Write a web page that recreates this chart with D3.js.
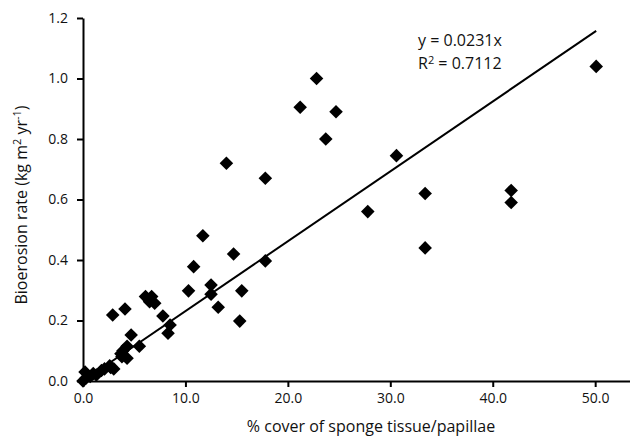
<!DOCTYPE html>
<html>
<head>
<meta charset="utf-8">
<script src="https://cdn.jsdelivr.net/npm/d3@7"></script>
<style>
  body { margin: 0; background: #fff; }
  svg { display: block; font-family: 'Open Sans', sans-serif; }
  .axis path, .axis line { stroke: #000; stroke-width: 2px; }
  .axis text { font-size: 14px; fill: #111; font-family: 'Open Sans', sans-serif; }
</style>
</head>
<body>
<svg></svg>
<script>
// % cover of sponge tissue/papillae
let cover = [
  0.0, 0.2, 0.3, 0.7, 1.0, 1.3, 1.8, 2.1, 2.6, 3.0,
  2.7, 3.7, 3.9, 3.8, 4.3, 4.3, 5.5, 4.7, 2.9, 4.1,
  6.1, 6.7, 6.5, 7.0, 7.8, 8.5, 8.3, 10.3, 10.8, 11.7,
  12.5, 12.5, 13.2, 14.7, 14.0, 15.3, 15.5, 17.8, 17.8, 21.2,
  22.8, 23.7, 24.7, 27.8, 30.6, 33.4, 33.4, 41.8, 41.8, 50.1
];

// bioerosion rate (kg m2 yr-1)
let rate = [
  0.0, 0.03, 0.01, 0.015, 0.025, 0.02, 0.035, 0.04, 0.05, 0.04,
  0.045, 0.09, 0.10, 0.08, 0.075, 0.115, 0.115, 0.152, 0.218, 0.238,
  0.279, 0.279, 0.262, 0.257, 0.215, 0.185, 0.158, 0.298, 0.378, 0.48,
  0.317, 0.287, 0.244, 0.42, 0.72, 0.198, 0.298, 0.67, 0.397, 0.905,
  1.00, 0.80, 0.89, 0.56, 0.745, 0.62, 0.44, 0.63, 0.59, 1.04
];

let xTicks = [0, 10, 20, 30, 40, 50];
let yTicks = [0, 0.2, 0.4, 0.6, 0.8, 1.0, 1.2];

let slope = 0.0231;
let trendX = [0, 50.1];

// configuration of svg/plot area
let config = { 'svg': {}, 'margin': {}, 'plot': {} };

config.svg.width = 630;
config.svg.height = 441;

config.margin.top = 18;
config.margin.right = 0;
config.margin.bottom = 60;
config.margin.left = 83;

config.plot.x = config.margin.left;
config.plot.y = config.margin.top;
config.plot.width = config.svg.width - config.margin.left - config.margin.right;
config.plot.height = config.svg.height - config.margin.top - config.margin.bottom;

let svg = d3.select('svg');
svg.attr('width', config.svg.width);
svg.attr('height', config.svg.height);

let plot = svg.append('g');
plot.attr('transform', translate(config.plot.x, config.plot.y));

// scales
let scale = {};
scale.x = d3.scaleLinear().domain([0, 53.4]).range([0, config.plot.width]);
scale.y = d3.scaleLinear().domain([0, 1.2]).range([config.plot.height, 0]);

// axes
let axis = {};
axis.x = d3.axisBottom(scale.x).tickValues(xTicks).tickFormat(d3.format('.1f'))
  .tickSizeInner(6).tickSizeOuter(0).tickPadding(6);
axis.y = d3.axisLeft(scale.y).tickValues(yTicks).tickFormat(d3.format('.1f'))
  .tickSizeInner(6).tickSizeOuter(0).tickPadding(9);

let gx = plot.append('g');
gx.attr('class', 'axis');
gx.attr('transform', translate(0, config.plot.height));
gx.call(axis.x);

let gy = plot.append('g');
gy.attr('class', 'axis');
gy.call(axis.y);

// trend line through origin
let line = d3.line()
  .x(d => scale.x(d))
  .y(d => scale.y(d * slope));

plot.append('path')
  .datum(trendX)
  .attr('d', line)
  .attr('fill', 'none')
  .attr('stroke', '#000')
  .attr('stroke-width', 2);

// diamonds
let points = cover.map((c, i) => ({ x: c, y: rate[i] }));
let diamond = d3.symbol().type(d3.symbolSquare).size(92);

plot.selectAll('path.pt')
  .data(points)
  .enter()
  .append('path')
  .attr('class', 'pt')
  .attr('d', diamond)
  .attr('transform', d => translate(scale.x(d.x), scale.y(d.y)) + ' rotate(45)')
  .attr('fill', '#000');

// axis titles
svg.append('text')
  .attr('x', 371)
  .attr('y', 432)
  .attr('text-anchor', 'middle')
  .style('font-size', '16px')
  .style('fill', '#111')
  .text('% cover of sponge tissue/papillae');

let yt = svg.append('text')
  .attr('transform', translate(27, 205) + ' rotate(-90)')
  .attr('text-anchor', 'middle')
  .style('font-size', '16px')
  .style('fill', '#111');
yt.append('tspan').text('Bioerosion rate (kg m');
yt.append('tspan').attr('dy', -6).style('font-size', '11px').text('2');
yt.append('tspan').attr('dy', 6).text(' yr');
yt.append('tspan').attr('dy', -6).style('font-size', '11px').text('-1');
yt.append('tspan').attr('dy', 6).text(')');

// equation
let eq = svg.append('g').style('font-size', '16px').style('fill', '#111');
eq.append('text').attr('x', 418).attr('y', 46).text('y = 0.0231x');
let r2 = eq.append('text').attr('x', 418).attr('y', 69);
r2.append('tspan').text('R');
r2.append('tspan').attr('dy', -5).style('font-size', '11px').text('2');
r2.append('tspan').attr('dy', 5).text(' = 0.7112');

function translate(x, y) {
  return 'translate(' + x + ',' + y + ')';
}
</script>
</body>
</html>
